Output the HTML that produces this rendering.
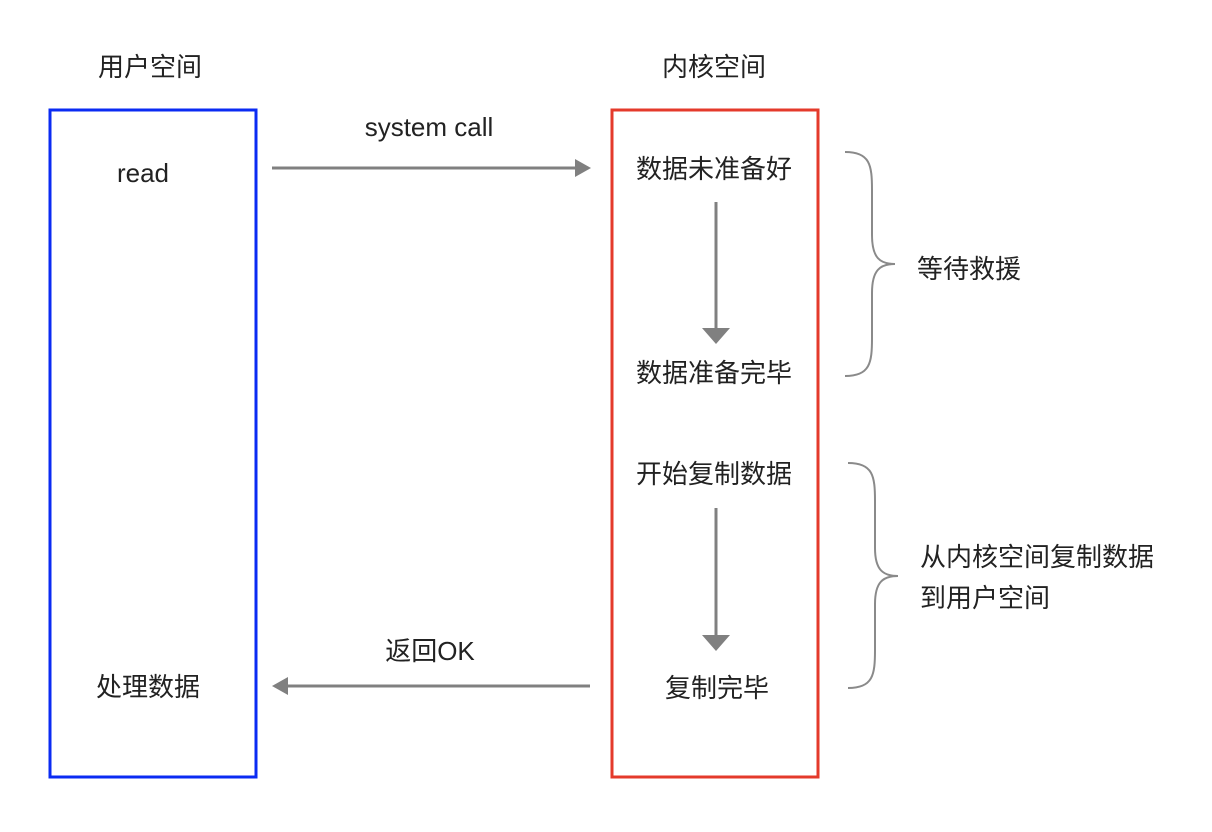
<!DOCTYPE html>
<html><head><meta charset="utf-8"><style>
html,body{margin:0;padding:0;background:#fff;}
svg{display:block;}
text{font-family:"Liberation Sans","Noto Sans CJK SC",sans-serif;fill:#222;font-size:26px;}
</style></head><body>
<svg width="1212" height="832" viewBox="0 0 1212 832">
<rect width="1212" height="832" fill="#fff"/>
<rect x="50" y="110" width="206" height="667" fill="none" stroke="#0b2bf3" stroke-width="3"/>
<rect x="612" y="110" width="206" height="667" fill="none" stroke="#e43a2b" stroke-width="3"/>
<text x="150" y="76" text-anchor="middle">用户空间</text>
<text x="714" y="76" text-anchor="middle">内核空间</text>
<text x="143" y="182" text-anchor="middle" font-size="25">read</text>
<text x="429" y="136" text-anchor="middle" font-size="25">system call</text>
<text x="148" y="696" text-anchor="middle">处理数据</text>
<text x="430" y="660" text-anchor="middle">返回OK</text>
<text x="714" y="178" text-anchor="middle">数据未准备好</text>
<text x="714" y="382" text-anchor="middle">数据准备完毕</text>
<text x="714" y="483" text-anchor="middle">开始复制数据</text>
<text x="717" y="697" text-anchor="middle">复制完毕</text>
<text x="917" y="278">等待救援</text>
<text x="920" y="566">从内核空间复制数据</text>
<text x="920" y="607">到用户空间</text>
<g stroke="#808080" stroke-width="3" fill="none">
<line x1="272" y1="168" x2="578" y2="168"/>
<line x1="590" y1="686" x2="286" y2="686"/>
<line x1="716" y1="202" x2="716" y2="330"/>
<line x1="716" y1="508" x2="716" y2="637"/>
</g>
<g fill="#808080">
<polygon points="591,168 575,159 575,177"/>
<polygon points="272,686 288,677 288,695"/>
<polygon points="716,344 702,328 730,328"/>
<polygon points="716,651 702,635 730,635"/>
</g>
<g stroke="#8a8a8a" stroke-width="2" fill="none">
<path d="M845,152 C870,152 872,165 872,190 L872,235 C872,258 880,264 895,264 C880,264 872,270 872,293 L872,338 C872,363 870,376 845,376"/>
<path d="M848,463 C873,463 875,476 875,501 L875,548 C875,570 883,576 898,576 C883,576 875,582 875,604 L875,650 C875,675 873,688 848,688"/>
</g>
</svg>
</body></html>
